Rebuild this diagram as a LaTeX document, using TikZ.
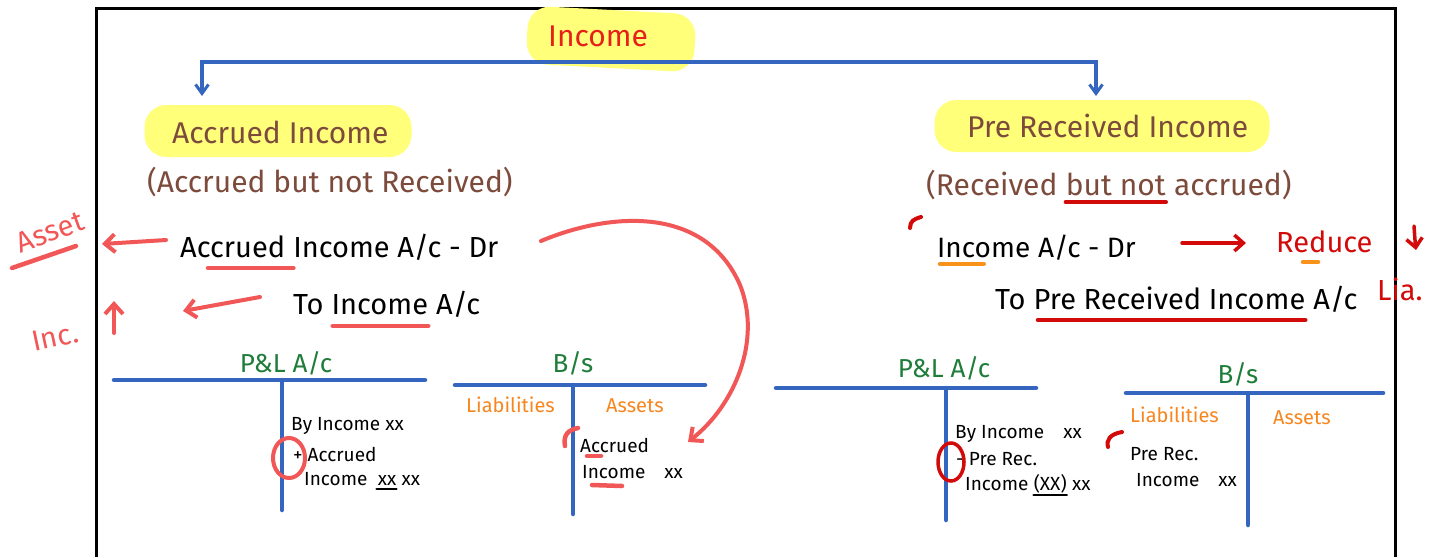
\documentclass[tikz,border=0pt]{standalone}
\usepackage{fontspec}
\setmainfont{Fira Sans}
\usetikzlibrary{arrows.meta,shapes.geometric}
\definecolor{hlyellow}{HTML}{FFFF7A}
\definecolor{ttlred}{HTML}{E8201A}
\definecolor{brn}{HTML}{7D4B3C}
\definecolor{tblue}{HTML}{3566BF}
\definecolor{tgreen}{HTML}{1F7D3A}
\definecolor{torange}{HTML}{F7861E}
\definecolor{salmon}{HTML}{F25757}
\definecolor{dred}{HTML}{D20A0A}
\begin{document}
\begin{tikzpicture}[x=1pt,y=-1pt,
  txt/.style={inner sep=0pt, anchor=base west},
  hl/.style={fill=hlyellow, rounded corners=22pt, draw=none},
  ttl/.style={txt, text=ttlred, font=\fontsize{30}{32}\selectfont},
  head/.style={txt, text=brn, font=\fontsize{30}{32}\selectfont},
  ent/.style={txt, font=\fontsize{29}{32}\selectfont},
  sm/.style={txt, font=\fontsize{19}{21}\selectfont},
  grn/.style={inner sep=0pt, anchor=base, text=tgreen, font=\fontsize{26}{28}\selectfont},
  org/.style={txt, text=torange, font=\fontsize{20}{22}\selectfont},
  tline/.style={draw=tblue, line width=4.5pt, line cap=round},
  flow/.style={draw=tblue, line width=4pt, {Straight Barb[length=9pt,width=13pt,line width=3pt]}-{Straight Barb[length=9pt,width=13pt,line width=3pt]}},
  sarrow/.style={draw=salmon, line width=4pt, line cap=round, -{Straight Barb[length=10pt,width=18pt]}},
  sline/.style={draw=salmon, line width=4.5pt, line cap=round},
  darrow/.style={draw=dred, line width=3.5pt, line cap=round, -{Straight Barb[length=9pt,width=16pt]}},
  dline/.style={draw=dred, line width=4pt, line cap=round},
  oline/.style={draw=torange!90!yellow, line width=4.5pt, line cap=round},
  kline/.style={draw=black, line width=2.5pt, line cap=round},
  stxt/.style={text=salmon, font=\fontsize{29}{30}\selectfont, inner sep=0pt},
  dtxt/.style={txt, text=dred, font=\fontsize{29}{30}\selectfont}
]
\useasboundingbox (0,0) rectangle (1447,557);
\fill[white] (0,0) rectangle (1447,557);
% frame
\draw[line width=3pt] (96,557) -- (96,8) -- (1395,8) -- (1395,557);

% highlights
\node[hl, minimum width=168pt, minimum height=58pt, rotate=-3] (hlinc) at (611,39) {};
\node[hl, minimum width=267pt, minimum height=52pt] (hlacc) at (278,131) {};
\node[hl, minimum width=335pt, minimum height=52pt] (hlpre) at (1102,126) {};

% titles
\node[ttl] (income) at (548,46) {Income};
\coordinate (la) at (202,96);
\coordinate (ra) at (1096,96);
\draw[flow] (la) -- (202,62) -- (ra |- 0,62) -- (ra);

\node[head] (acc) at (172,143) {Accrued Income};
\node[head] (accsub) at (147,192) {(Accrued but not Received)};
\node[head] (pre) at (967,137) {Pre Received Income};
\node[head] (presub1) at (926,195) {(Received};
\node[head] (presub2) at (presub1.base east) {\ but not};
\node[head] (presub3) at (presub2.base east) {\ accrued)};
\draw[dline] ([xshift=8pt,yshift=-7pt]presub2.base west) -- ([yshift=-7pt]presub2.base east);

% left journal entry
\node[ent] (e1a) at (180,257) {Accrued};
\node[ent] (e1b) at (e1a.base east) {\ Income A/c - Dr};
\node[ent] (e2a) at (293,314) {To};
\node[ent] (e2b) at (e2a.base east) {\ Income};
\node[ent] (e2c) at (e2b.base east) {\ A/c};
\draw[sline] ([xshift=28pt,yshift=-11pt]e1a.base west) -- ([xshift=8pt,yshift=-11pt]e1a.base east);
\draw[sline] ([xshift=9pt,yshift=-12pt]e2b.base west) -- ([yshift=-12pt]e2b.base east);

% left annotations
\node[stxt, rotate=20] (asset) at (50,232) {Asset};
\draw[sline] (12,268) -- (76,246);
\node[stxt, rotate=12] (incup) at (55,337) {Inc.};
\coordinate (upfrom) at (114,333);
\coordinate (upt) at (114,301);
\draw[sarrow] (upfrom) -- (upt);
\coordinate (assetfrom) at (166,240);
\coordinate (assetpt) at (102,244);
\draw[sarrow] (assetfrom) -- (assetpt);
\coordinate (incfrom) at (260,297);
\coordinate (incpt) at (183,311);
\draw[sarrow] (incfrom) -- (incpt);

% big curve
\coordinate (curvefrom) at (541,241);
\coordinate (bsacc) at (688,442);
\draw[sarrow] (curvefrom) .. controls (610,212) and (705,205) .. (740,285) .. controls (762,340) and (735,405) .. (bsacc);

% left P&L
\node[grn] (pl1) at (286,372) {P\&L A/c};
\draw[tline] (114,380) -- (425,380);
\draw[tline] (282,380) -- (282,510);
\node[sm] (pl1a) at (291,430) {By Income xx};
\node[sm] (pl1b) at (293,461) {+ Accrued};
\node[sm] (pl1c) at (304,485) {Income};
\node[sm] (pl1d) at (pl1c.base east) {\ \ xx};
\node[sm] (pl1e) at (pl1d.base east) {\ xx};
\draw[kline] ([xshift=9pt,yshift=-4pt]pl1d.base west) -- ([yshift=-4pt]pl1d.base east);
\draw[draw=salmon, line width=4pt] (289,458) ellipse [x radius=16pt, y radius=20pt];

% left B/s
\node[grn] (bs1) at (573,372) {B/s};
\draw[tline] (455,385) -- (705,385);
\draw[tline] (573,385) -- (573,514);
\node[org] (li1) at (466,412) {Liabilities};
\node[org] (as1) at (606,412) {Assets};
\node[sm] (bs1a) at (580,452) {Accrued};
\node[sm] (bs1b) at (582,478) {Income\quad xx};
\draw[sline] (565,446) .. controls (563,435) and (568,430) .. (578,428);
\draw[sline] (587,456) -- (601,456);
\draw[sline] (592,485) -- (622,486);

% right journal entry
\node[ent, font=\fontsize{28}{30}\selectfont] (r1a) at (937,257) {Income};
\node[ent, font=\fontsize{28}{30}\selectfont] (r1b) at (r1a.base east) {\ A/c - Dr};
\node[ent] (r2a) at (995,309) {To};
\node[ent] (r2b) at (r2a.base east) {\ Pre Received Income};
\node[ent] (r2c) at (r2b.base east) {\ A/c};
\draw[oline] ([xshift=3pt,yshift=-7pt]r1a.base west) -- ([yshift=-7pt]r1a.base);
\draw[dline] ([xshift=12pt,yshift=-11pt]r2b.base west) -- ([yshift=-11pt]r2b.base east);
\draw[dline] (910,228) .. controls (910,221) and (914,219) .. (921,217);

\node[dtxt] (reduce) at (1276,252) {Reduce};
\draw[oline] (1303,262) -- (1318,262);
\coordinate (redfrom) at (1182,243);
\coordinate (redpt) at (1246,243);
\draw[darrow] (redfrom) -- (redpt);
\coordinate (dnfrom) at (1414,226);
\coordinate (dn) at (1416,250);
\draw[darrow] (dnfrom) .. controls (1414,236) .. (dn);
\node[dtxt] (lia) at (1377,300) {Lia.};

% right P&L
\node[grn] (pl2) at (944,377) {P\&L A/c};
\draw[tline] (776,388) -- (1036,388);
\draw[tline] (946,388) -- (946,520);
\node[sm] (pl2a) at (955,438) {By Income\quad xx};
\node[sm] (pl2b) at (956,465) {-\ Pre Rec.};
\node[sm] (pl2c) at (965,490) {Income};
\node[sm] (pl2d) at (pl2c.base east) {\ (XX)};
\node[sm] (pl2e) at (pl2d.base east) {\ xx};
\draw[kline] ([xshift=5pt,yshift=-5pt]pl2d.base west) -- ([yshift=-5pt]pl2d.base east);
\draw[draw=dred, line width=3.5pt] (951,462) ellipse [x radius=13pt, y radius=19pt];

% right B/s
\node[grn] (bs2) at (1238,383) {B/s};
\draw[tline] (1126,393) -- (1383,393);
\draw[tline] (1248,393) -- (1248,525);
\node[org] (li2) at (1130,422) {Liabilities};
\node[org] (as2) at (1273,424) {Assets};
\node[sm] (bs2a) at (1130,460) {Pre Rec.};
\node[sm] (bs2b) at (1136,486) {Income\quad xx};
\draw[dline] (1108,447) .. controls (1106,440) and (1110,434) .. (1122,432);
\end{tikzpicture}
\end{document}
